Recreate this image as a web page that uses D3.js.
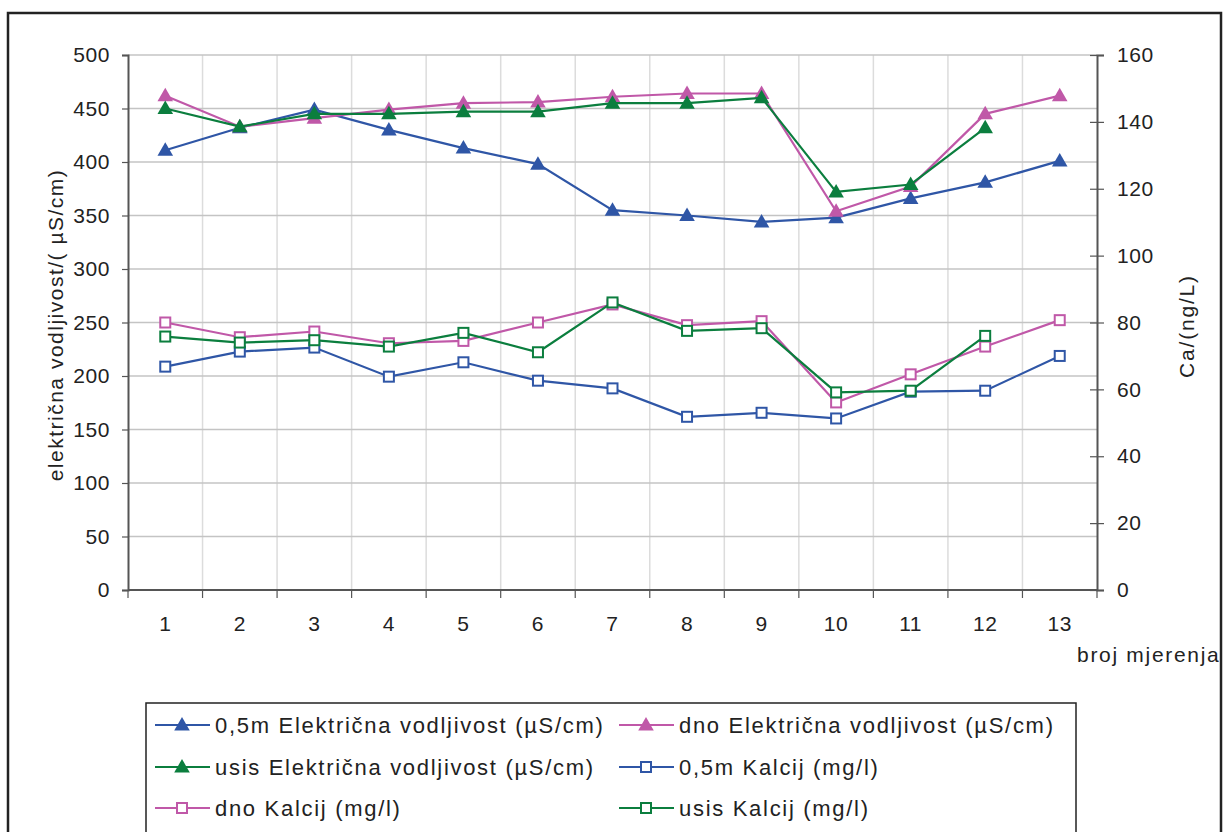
<!DOCTYPE html>
<html>
<head>
<meta charset="utf-8">
<script src="https://cdn.jsdelivr.net/npm/d3@7"></script>
<style>
  html, body { margin: 0; padding: 0; background: #fff; }
  svg { display: block; font-family: "Liberation Sans", Arial, sans-serif; }
</style>
</head>
<body>
<svg id="chart" width="1223" height="832"></svg>
<script>
// measurement number
const categories = ["1", "2", "3", "4", "5", "6", "7", "8", "9", "10", "11", "12", "13"];

// conductivity, left axis (µS/cm)
const ecSurface = [411, 432, 449, 430, 413, 398, 355, 350, 344, 348, 366, 381, 401];
const ecBottom  = [462, 433, 441, 449, 455, 456, 461, 464, 464, 354, 377, 445, 462];
const ecIntake  = [450, 433, 445, 445, 447, 447, 455, 455, 460, 372, 379, 432, null];

// calcium, right axis
const caSurface = [66.8, 71.3, 72.5, 63.8, 68.1, 62.6, 60.3, 51.8, 53.0, 51.3, 59.3, 59.6, 70.0];
const caBottom  = [80.0, 75.6, 77.3, 73.8, 74.5, 80.0, 85.4, 79.2, 80.4, 56.1, 64.5, 72.8, 80.7];
const caIntake  = [75.8, 74.0, 74.7, 72.8, 76.9, 71.1, 86.0, 77.5, 78.3, 59.1, 59.6, 76.0, null];

const leftTicks = [0, 50, 100, 150, 200, 250, 300, 350, 400, 450, 500];
const rightTicks = [0, 20, 40, 60, 80, 100, 120, 140, 160];

const BLUE = "#2f56a6", PINK = "#c058a8", GREEN = "#0b7e3e";

const series = [
  { name: "0,5m Električna vodljivost (µS/cm)", values: ecSurface, axis: "left", color: BLUE, marker: "tri" },
  { name: "dno Električna vodljivost (µS/cm)", values: ecBottom, axis: "left", color: PINK, marker: "tri" },
  { name: "usis Električna vodljivost (µS/cm)", values: ecIntake, axis: "left", color: GREEN, marker: "tri" },
  { name: "0,5m Kalcij (mg/l)", values: caSurface, axis: "right", color: BLUE, marker: "sq" },
  { name: "dno Kalcij (mg/l)", values: caBottom, axis: "right", color: PINK, marker: "sq" },
  { name: "usis Kalcij (mg/l)", values: caIntake, axis: "right", color: GREEN, marker: "sq" }
];

const svg = d3.select("#chart");
const plot = { left: 128, right: 1097, top: 55, bottom: 590 };

const x = d3.scaleBand().domain(categories).range([plot.left, plot.right]).padding(0);
const yL = d3.scaleLinear().domain([0, 500]).range([plot.bottom, plot.top]);
const yR = d3.scaleLinear().domain([0, 160]).range([plot.bottom, plot.top]);

// outer frame
svg.append("rect")
  .attr("x", 8).attr("y", 13).attr("width", 1213).attr("height", 840)
  .attr("fill", "none").attr("stroke", "#222").attr("stroke-width", 2.5);

// vertical gridlines at category boundaries
const bounds = categories.map(c => x(c)).concat([plot.right]);
svg.append("g").selectAll("line")
  .data(bounds.slice(1, -1))
  .join("line")
  .attr("x1", d => d).attr("x2", d => d)
  .attr("y1", plot.top).attr("y2", plot.bottom)
  .attr("stroke", "#dcdcdc").attr("stroke-width", 1.5);

// horizontal gridlines from left axis
svg.append("g").selectAll("line")
  .data(leftTicks.slice(1))
  .join("line")
  .attr("x1", plot.left).attr("x2", plot.right)
  .attr("y1", d => yL(d)).attr("y2", d => yL(d))
  .attr("stroke", "#c4c4c4").attr("stroke-width", 1.5);

// left axis
const gL = svg.append("g")
  .attr("transform", `translate(${plot.left},0)`)
  .call(d3.axisLeft(yL).tickValues(leftTicks).tickSize(6).tickPadding(12));
// right axis
const gR = svg.append("g")
  .attr("transform", `translate(${plot.right},0)`)
  .call(d3.axisRight(yR).tickValues(rightTicks).tickSize(7).tickPadding(13));
gR.selectAll(".tick line").attr("x1", -7);
// bottom axis: ticks at boundaries, labels at centers
const gB = svg.append("g")
  .attr("transform", `translate(0,${plot.bottom})`)
  .call(d3.axisBottom(x).tickSize(0).tickPadding(26));
gB.selectAll(".tick line").remove();
gB.append("g").selectAll("line")
  .data(bounds)
  .join("line")
  .attr("x1", d => d).attr("x2", d => d)
  .attr("y1", 0).attr("y2", 8)
  .attr("stroke", "#555").attr("stroke-width", 1.2);

[gL, gR, gB].forEach(g => {
  g.select(".domain").attr("stroke", "#555").attr("stroke-width", 2);
  g.selectAll(".tick line").attr("stroke", "#555").attr("stroke-width", 1.2);
  g.selectAll("text").attr("fill", "#222").style("font-size", "21px")
    .style("letter-spacing", "0.6px")
    .style("font-family", "'Liberation Sans', Arial, sans-serif");
});
gB.select(".domain").attr("d", `M${plot.left},0H${plot.right}`);

// axis titles
svg.append("text")
  .attr("transform", "translate(55,325) rotate(-90)")
  .attr("text-anchor", "middle").attr("dominant-baseline", "central")
  .attr("fill", "#222").style("font-size", "21px").style("letter-spacing", "1.5px")
  .text("električna vodljivost/(  µS/cm)");
svg.append("text")
  .attr("transform", "translate(1186,326) rotate(-90)")
  .attr("text-anchor", "middle").attr("dominant-baseline", "central")
  .attr("fill", "#222").style("font-size", "21px").style("letter-spacing", "1.8px")
  .text("Ca/(ng/L)");
svg.append("text")
  .attr("x", 1077).attr("y", 662)
  .attr("fill", "#222").style("font-size", "21px").style("letter-spacing", "1.7px")
  .text("broj mjerenja");

// markers
const tri = d3.symbol().type(d3.symbolTriangle).size(105);
function drawMarker(g, s, cx, cy) {
  if (s.marker === "tri") {
    g.append("path").attr("d", tri())
      .attr("transform", `translate(${cx},${cy + 1})`)
      .attr("fill", s.color);
  } else {
    g.append("rect")
      .attr("x", cx - 5).attr("y", cy - 5).attr("width", 10).attr("height", 10)
      .attr("fill", "#fff").attr("stroke", s.color).attr("stroke-width", 2);
  }
}

// series lines + markers
series.forEach(s => {
  const y = s.axis === "left" ? yL : yR;
  const pts = s.values.map((v, i) => ({ c: categories[i], v })).filter(d => d.v != null);
  const line = d3.line().x(d => x(d.c) + x.bandwidth() / 2).y(d => y(d.v));
  const g = svg.append("g");
  g.append("path").datum(pts).attr("d", line)
    .attr("fill", "none").attr("stroke", s.color).attr("stroke-width", 2.2);
  pts.forEach(d => drawMarker(g, s, x(d.c) + x.bandwidth() / 2, y(d.v)));
});

// legend
const lg = svg.append("g");
lg.append("rect")
  .attr("x", 146).attr("y", 703).attr("width", 930).attr("height", 150)
  .attr("fill", "#fff").attr("stroke", "#222").attr("stroke-width", 1.5);
const colX = [155, 619], rowY = [725, 767, 808];
series.forEach((s, i) => {
  const cx = colX[i % 2], cy = rowY[Math.floor(i / 2)];
  lg.append("line")
    .attr("x1", cx).attr("x2", cx + 55).attr("y1", cy).attr("y2", cy)
    .attr("stroke", s.color).attr("stroke-width", 2);
  drawMarker(lg, s, cx + 27, cy);
  lg.append("text")
    .attr("x", cx + 60).attr("y", cy).attr("dominant-baseline", "central")
    .attr("fill", "#222").style("font-size", "22px").style("letter-spacing", "1.7px")
    .text(s.name);
});
</script>
</body>
</html>
